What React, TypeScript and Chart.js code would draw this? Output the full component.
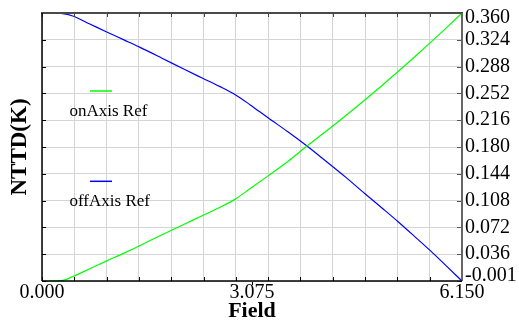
import React, { useEffect, useRef } from "react";
import { Chart, registerables } from "chart.js";

Chart.register(...registerables);

// Field positions shared by both reference curves
const fieldValues = [
  0, 0.15, 0.28, 0.45, 0.7, 0.94, 1.2, 1.43, 1.75, 2.09, 2.36, 2.6, 2.83,
  3.05, 3.31, 3.6, 3.88, 4.15, 4.45, 4.73, 5.0, 5.21, 5.45, 5.69, 5.92, 6.15,
];

// NTTD (K) along the on-axis reference
const onAxisRef = [
  -0.001, -0.001, -0.0006, 0.005, 0.0155, 0.0258, 0.0365, 0.0465, 0.061,
  0.0758, 0.0875, 0.098, 0.1093, 0.1235, 0.1406, 0.16, 0.1808, 0.2, 0.222,
  0.2432, 0.2641, 0.2809, 0.3004, 0.3204, 0.34, 0.36,
];

// NTTD (K) along the off-axis reference
const offAxisRef = [
  0.36, 0.36, 0.3594, 0.356, 0.3452, 0.3348, 0.3238, 0.314, 0.2995, 0.2838,
  0.2718, 0.2612, 0.25, 0.2362, 0.2188, 0.2, 0.1808, 0.161, 0.1386, 0.1165,
  0.0957, 0.0792, 0.0595, 0.0395, 0.0193, -0.001,
];

const seriesLabels = ["onAxis Ref", "offAxis Ref"];
const seriesColors = ["#00ff00", "#0000ff"];

const fieldMin = 0;
const fieldMax = 6.15;
const fieldGridDivisions = 13;
const fieldTickValues = [0, 3.075, 6.15];
const fieldTickLabels = ["0.000", "3.075", "6.150"];

const ntdMin = -0.001;
const ntdMax = 0.36;
const ntdTickLabels = [
  "-0.001", "0.036", "0.072", "0.108", "0.144", "0.180",
  "0.216", "0.252", "0.288", "0.324", "0.360",
];

const SERIF = '"Liberation Serif", "Times New Roman", serif';
const GRID = "#d4d4d4";

const labelIndexOf = (v: number) =>
  fieldTickValues.findIndex((f) => Math.abs(f - v) < 1e-9);
const isMidField = (v: number) => Math.abs(v - fieldTickValues[1]) < 1e-9;

const ntdTicks = () =>
  ntdTickLabels.map((_, i) => ({
    value: ntdMin + (i * (ntdMax - ntdMin)) / (ntdTickLabels.length - 1),
  }));

// Frame, inward tick marks and the in-plot legend
const framePlugin = {
  id: "frame",
  afterDatasetsDraw(chart: any) {
    const { ctx, chartArea, scales } = chart;
    const { left, top, right, bottom } = chartArea;
    ctx.save();
    ctx.lineWidth = 1;

    scales.x.ticks.forEach((t: any) => {
      if (isMidField(t.value)) return;
      const px = Math.round(scales.x.getPixelForValue(t.value)) + 0.5;
      ctx.strokeStyle = "#444";
      ctx.beginPath();
      ctx.moveTo(px, top);
      ctx.lineTo(px, top + 4);
      ctx.stroke();
      ctx.strokeStyle = "#000";
      ctx.beginPath();
      ctx.moveTo(px, bottom);
      ctx.lineTo(px, bottom - 4);
      ctx.stroke();
    });

    scales.y.ticks.forEach((t: any) => {
      const py = Math.round(scales.y.getPixelForValue(t.value)) + 0.5;
      ctx.strokeStyle = "#000";
      ctx.beginPath();
      ctx.moveTo(left, py);
      ctx.lineTo(left + 4, py);
      ctx.stroke();
      ctx.strokeStyle = "#555";
      ctx.beginPath();
      ctx.moveTo(right, py);
      ctx.lineTo(right - 5, py);
      ctx.stroke();
    });

    // plot frame
    ctx.lineWidth = 2;
    ctx.strokeStyle = "#4a4a4a";
    ctx.beginPath();
    ctx.moveTo(left - 1, top);
    ctx.lineTo(right + 1, top);
    ctx.stroke();
    ctx.strokeStyle = "#666";
    ctx.beginPath();
    ctx.moveTo(right, top);
    ctx.lineTo(right, bottom);
    ctx.stroke();
    ctx.lineWidth = 1.5;
    ctx.strokeStyle = "#000";
    ctx.beginPath();
    ctx.moveTo(left, top);
    ctx.lineTo(left, bottom);
    ctx.stroke();
    ctx.beginPath();
    ctx.moveTo(left, bottom);
    ctx.lineTo(right, bottom);
    ctx.stroke();

    // legend entries inside the plot
    chart.data.datasets.forEach((ds: any, i: number) => {
      const ly = top + 78 + i * 90.3;
      ctx.lineWidth = 1.5;
      ctx.strokeStyle = ds.borderColor;
      ctx.beginPath();
      ctx.moveTo(left + 48, ly);
      ctx.lineTo(left + 70, ly);
      ctx.stroke();
      ctx.fillStyle = "#000";
      ctx.font = `17px ${SERIF}`;
      ctx.textAlign = "left";
      ctx.textBaseline = "alphabetic";
      ctx.fillText(ds.label, left + 27.5, ly + 25);
    });
    ctx.restore();
  },
};

export default function App() {
  const canvasRef = useRef<HTMLCanvasElement | null>(null);

  useEffect(() => {
    if (!canvasRef.current) return;
    const series = [onAxisRef, offAxisRef];
    const chart = new Chart(canvasRef.current, {
      type: "line",
      data: {
        datasets: series.map((vals, i) => ({
          label: seriesLabels[i],
          data: fieldValues.map((f, j) => ({ x: f, y: vals[j] })),
          borderColor: seriesColors[i],
          backgroundColor: seriesColors[i],
          borderWidth: 1.2,
          pointRadius: 0,
          cubicInterpolationMode: "monotone",
          clip: false as any,
        })),
      },
      options: {
        animation: false,
        responsive: false,
        devicePixelRatio: 1,
        layout: { padding: { top: 11, left: 0, right: 0, bottom: 0 } },
        plugins: {
          legend: { display: false },
          tooltip: { enabled: false },
        },
        scales: {
          x: {
            type: "linear",
            position: "bottom",
            min: fieldMin,
            max: fieldMax,
            afterBuildTicks: (scale: any) => {
              const ticks: { value: number }[] = [];
              for (let i = 0; i <= fieldGridDivisions; i++) {
                ticks.push({ value: (i * (fieldMax - fieldMin)) / fieldGridDivisions + fieldMin });
              }
              ticks.push({ value: fieldTickValues[1] });
              ticks.sort((a, b) => a.value - b.value);
              scale.ticks = ticks;
            },
            afterFit: (scale: any) => {
              scale.height = 41;
            },
            grid: {
              color: (c: any) => (c.tick && isMidField(c.tick.value) ? "rgba(0,0,0,0)" : GRID),
              lineWidth: 1,
              drawTicks: true,
              tickLength: 4,
              tickColor: (c: any) => (c.tick && isMidField(c.tick.value) ? "#000" : "rgba(0,0,0,0)"),
              tickWidth: 1,
            },
            border: { display: false },
            ticks: {
              autoSkip: false,
              maxRotation: 0,
              minRotation: 0,
              padding: -2,
              color: "#000",
              font: { family: SERIF, size: 20, lineHeight: 1 },
              callback: (v: any) => {
                const idx = labelIndexOf(Number(v));
                return idx >= 0 ? fieldTickLabels[idx] : "";
              },
            },
            title: {
              display: true,
              text: "Field",
              color: "#000",
              font: { family: SERIF, size: 22, weight: "bold", lineHeight: 1 },
              padding: 0,
            },
          },
          y: {
            type: "linear",
            position: "left",
            min: ntdMin,
            max: ntdMax,
            afterBuildTicks: (scale: any) => {
              scale.ticks = ntdTicks();
            },
            afterFit: (scale: any) => {
              scale.width = 42;
            },
            grid: { color: GRID, lineWidth: 1, drawTicks: false },
            border: { display: false },
            ticks: { display: false },
            title: {
              display: true,
              text: "NTTD(K)",
              color: "#000",
              font: { family: SERIF, size: 23, weight: "bold", lineHeight: 1 },
              padding: { top: 9, bottom: 0 },
            },
          },
          y2: {
            type: "linear",
            position: "right",
            min: ntdMin,
            max: ntdMax,
            afterBuildTicks: (scale: any) => {
              scale.ticks = ntdTicks();
            },
            afterFit: (scale: any) => {
              scale.width = 57;
            },
            grid: { drawOnChartArea: false, drawTicks: false },
            border: { display: false },
            ticks: {
              padding: 3,
              color: "#000",
              font: { family: SERIF, size: 20, lineHeight: 0.5 },
              callback: (_v: any, i: number) => {
                const lbl = ntdTickLabels[i];
                if (i === 0) return [lbl, ""];
                if (i === ntdTickLabels.length - 1) return ["", lbl];
                return lbl;
              },
            },
          },
        },
      } as any,
      plugins: [framePlugin],
    });
    return () => chart.destroy();
  }, []);

  return (
    <div style={{ position: "absolute", left: 0, top: 0, width: 519, height: 322, background: "#fff" }}>
      <canvas ref={canvasRef} width={519} height={322} style={{ display: "block" }} />
    </div>
  );
}
